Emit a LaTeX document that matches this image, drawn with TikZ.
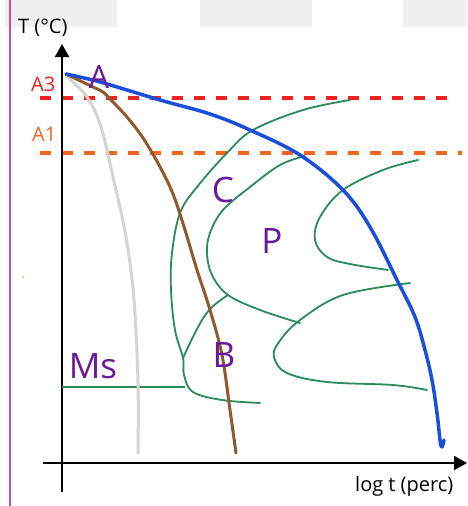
\documentclass[tikz,border=0pt]{standalone}
\usepackage{fontspec}
\setmainfont{Open Sans}
\usetikzlibrary{arrows.meta}
\definecolor{cblue}{HTML}{1A4FDB}
\definecolor{cbrown}{HTML}{8E5A2E}
\definecolor{cgray}{HTML}{D4D4D4}
\definecolor{cgreen}{HTML}{2A8A5C}
\definecolor{cred}{HTML}{EE2020}
\definecolor{corange}{HTML}{F2661E}
\definecolor{cpurple}{HTML}{6A1A99}
\definecolor{cpink}{HTML}{CF4F8C}
\definecolor{cband}{HTML}{F0F0F0}
\tikzset{
  axisline/.style={line width=2pt, black, -{Triangle[width=14pt,length=13pt]}},
  bluecurve/.style={cblue, line width=3.5pt, line cap=round, line join=round},
  browncurve/.style={cbrown, line width=3pt, line cap=round, line join=round},
  graycurve/.style={cgray, line width=3pt, line cap=round, line join=round},
  greencurve/.style={cgreen, line width=1.8pt, line cap=round, line join=round},
  reddash/.style={cred, line width=3.3pt, dash pattern=on 11pt off 11pt},
  orangedash/.style={corange, line width=3.3pt, dash pattern=on 11pt off 11pt},
  biglabel/.style={cpurple, font=\fontsize{35}{40}\selectfont, inner sep=0pt, anchor=base},
  smalllabel/.style={font=\fontsize{20}{24}\selectfont, inner sep=0pt, anchor=base west},
}
\begin{document}
\begin{tikzpicture}[x=1pt,y=-1pt]
\useasboundingbox (0,0) rectangle (467,506);
\fill[white] (0,0) rectangle (467,506);
% top bands
\fill[cband] (5,0) rectangle (117,27);
\fill[cband] (200,0) rectangle (312,27);
\fill[cband] (403,0) rectangle (467,27);
% pink margin line
\draw[cpink, line width=2pt] (10,0) -- (10,506);
\fill[corange!60] (23,277) circle (1.2pt);
% dashed levels
\coordinate (r0) at (40,98); \coordinate (r1) at (452,98);
\coordinate (o0) at (40,153); \coordinate (o1) at (462,153);
\draw[reddash] (r0) -- (r1);
\draw[orangedash] (o0) -- (o1);
% axes
\coordinate (yb) at (62,492); \coordinate (yt) at (62,44);
\coordinate (xl) at (43,463); \coordinate (xr) at (467,463);
\draw[axisline] (yb) -- (yt);
\draw[axisline] (xl) -- (xr);
% green curves
\draw[greencurve] plot[smooth, tension=0.6] coordinates {(350,100) (303,110) (253,130) (227,153) (197,187) (180,213) (172,253) (171,290) (175,330) (183,358) (184,375) (193,392) (222,400) (260,403)};
\draw[greencurve] plot[smooth, tension=0.6] coordinates {(183,358) (197,329) (210,309) (228,295)};
\draw[greencurve] plot[smooth, tension=0.6] coordinates {(305,156) (280,165) (250,187) (223,210) (210,233) (207,253) (212,275) (228,295) (260,310) (300,323)};
\draw[greencurve] plot[smooth, tension=0.6] coordinates {(410,283) (343,295) (300,320) (279,342) (274,357) (287,373) (327,382) (393,385) (427,390)};
\draw[greencurve] plot[smooth, tension=0.6] coordinates {(418,160) (383,170) (343,190) (320,217) (315,240) (327,257) (350,264) (388,270)};
\draw[cgreen, line width=1.8pt] (62,387) -- (185,387);
% gray curve
\draw[graycurve] plot[smooth, tension=0.6] coordinates {(66,76) (87,97) (101,127) (113,177) (126,237) (134,300) (138,383) (138,453)};
% brown curve
\draw[browncurve] plot[smooth, tension=0.6] coordinates {(66,74) (93,87) (103,92) (111,100) (127,117) (143,138) (159,165) (173,194) (185,230) (197,270) (210,310) (222,355) (230,410) (236,453)};
% blue curve
\draw[bluecurve] plot[smooth, tension=0.6] coordinates {(66,74) (100,82) (160,100) (210,114) (250,130) (300,155) (343,190) (370,227) (397,280) (415,317) (425,350) (432,380) (437,413) (441,446) (444,440)};
% labels
\node[smalllabel] (ty) at (18,33) {T (°C)};
\node[smalllabel] (tx) at (355,491) {log t (perc)};
\node[smalllabel, cred] (a3) at (31,91) {A3};
\node[smalllabel, corange] (a1) at (32,141) {A1};
\node[biglabel, font=\fontsize{32}{36}\selectfont] (la) at (99,88) {A};
\node[biglabel] (lc) at (223,202) {C};
\node[biglabel] (lp) at (272,253) {P};
\node[biglabel] (lb) at (224,367) {B};
\node[biglabel] (lms) at (93,378) {Ms};
\end{tikzpicture}
\end{document}
